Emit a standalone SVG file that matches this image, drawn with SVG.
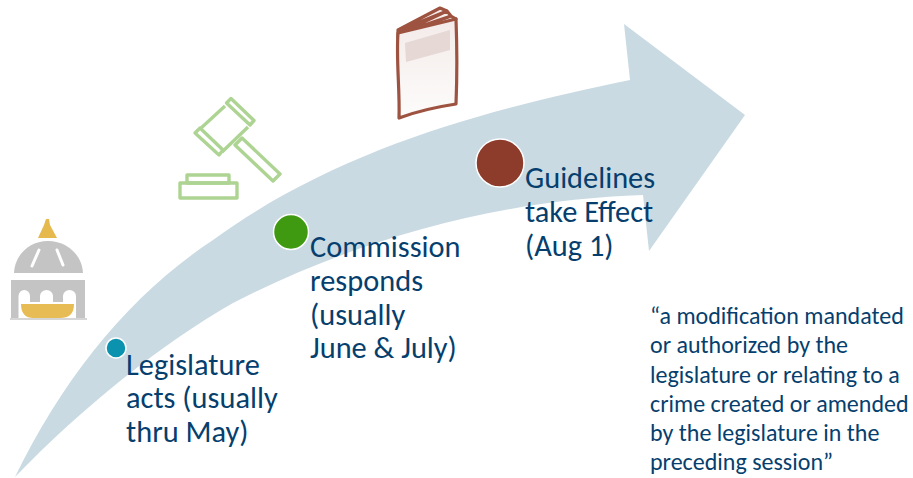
<svg xmlns="http://www.w3.org/2000/svg" width="913" height="478" viewBox="0 0 913 478">
<defs>
<filter id="soft" x="-10%" y="-10%" width="120%" height="120%"><feGaussianBlur stdDeviation="0.5"/></filter>
<linearGradient id="page" x1="0" y1="0" x2="0" y2="1"><stop offset="0" stop-color="#f3ebe9"/><stop offset="1" stop-color="#fdfcfb"/></linearGradient>
</defs>
<style>
.t{font-family:"Carlito","Liberation Sans","Open Sans",sans-serif;font-size:30.400px;fill:#063f6e}
.q{font-family:"Carlito","Liberation Sans","Open Sans",sans-serif;font-size:24px;fill:#063f6e}
.g{fill:none;stroke:#aed493;stroke-width:3.400;stroke-linejoin:round}
.b{stroke:#9d5341;stroke-width:3.200;stroke-linejoin:round}
</style>
<rect width="913" height="478" fill="#fff"/>
<g id="connectors">
<path d="M15 477C65 375 130 295 213 240C343 145 500 107 630 80L624 24L745 115L649 251L643 195C490 200 350 243 233 303C160 345 85 405 15 477Z" fill="#c9dae2"/>
</g>
<g id="capitol" filter="url(#soft)">
<path d="M46 219H49L50 225L57 238H38L44 225Z" fill="#e5b94e"/>
<path d="M14 273C15 254 30 241 48 241C66 241 82 254 83 273Z" fill="#c4c4c4"/>
<path d="M11 280H85V318H11Z" fill="#c4c4c4"/>
<path d="M18.500 318V296A5.750 6 0 0 1 30 296V302H40V296A6.500 6 0 0 1 53 296V302H63V296A6.500 6 0 0 1 76 296V318Z" fill="#fff"/>
<path d="M32 266L39 250M57 250L63 265" stroke="#fff" stroke-width="3" stroke-linecap="round"/>
<path d="M21 304H74C74 314 69 318 60 318H33C26 318 21 314 21 304Z" fill="#e8bc55"/>
<path d="M10 319H87" stroke="#c9c9c9" stroke-width="1.500"/>
</g>
<g id="gavel" filter="url(#soft)">
<path class="g" d="M225 106L200 129M248 127L222 152"/>
<path class="g" d="M231 98.500L254 120.500L250 125L226.500 103Z"/>
<path class="g" d="M200 128L223 150L219 155L195 133Z"/>
<path class="g" d="M242 138L280 174L273 181L235 145Z"/>
<rect class="g" x="187" y="175" width="42" height="8"/>
<rect class="g" x="180" y="183" width="57" height="15"/>
</g>
<g id="book" filter="url(#soft)">
<path class="b" d="M398 30L440 8L447 11L398 34ZM398 31L447 11L451 16L398 36ZM398 34L451 16L456 19L398 38Z" fill="#f7eeeb" stroke-width="2.200"/>
<path class="b" d="M398 33L456 19C457 45 457 80 456 104C436 107 415 112 399 118C400 90 396 60 398 33Z" fill="url(#page)"/>
<path d="M405 43L450 30L450 50L406 62Z" fill="#e5d8d5"/>
</g>
<g id="node-legislature">
<circle cx="116" cy="348" r="10" fill="#0a92ae" stroke="#fff" stroke-width="1.500"/>
<text class="t"><tspan x="126" y="375">Legislature</tspan><tspan x="126" y="408">acts (usually</tspan><tspan x="126" y="442">thru May)</tspan></text>
</g>
<g id="node-commission">
<circle cx="291" cy="232" r="17.500" fill="#3f9a11" stroke="#fff" stroke-width="1.500"/>
<text class="t"><tspan x="310" y="257">Commission</tspan><tspan x="310" y="291">responds</tspan><tspan x="310" y="325">(usually</tspan><tspan x="310" y="358">June &amp; July)</tspan></text>
</g>
<g id="node-guidelines">
<circle cx="500" cy="163" r="24" fill="#8d3b2a" stroke="#fff" stroke-width="1.500"/>
<text class="t"><tspan x="525" y="188">Guidelines</tspan><tspan x="525" y="222">take Effect</tspan><tspan x="525" y="256">(Aug 1)</tspan></text>
</g>
<g id="quote">
<text class="q"><tspan x="650" y="324">“a modification mandated</tspan><tspan x="650" y="353">or authorized by the</tspan><tspan x="650" y="383">legislature or relating to a</tspan><tspan x="650" y="412">crime created or amended</tspan><tspan x="650" y="441">by the legislature in the</tspan><tspan x="650" y="470">preceding session”</tspan></text>
</g>
</svg>
